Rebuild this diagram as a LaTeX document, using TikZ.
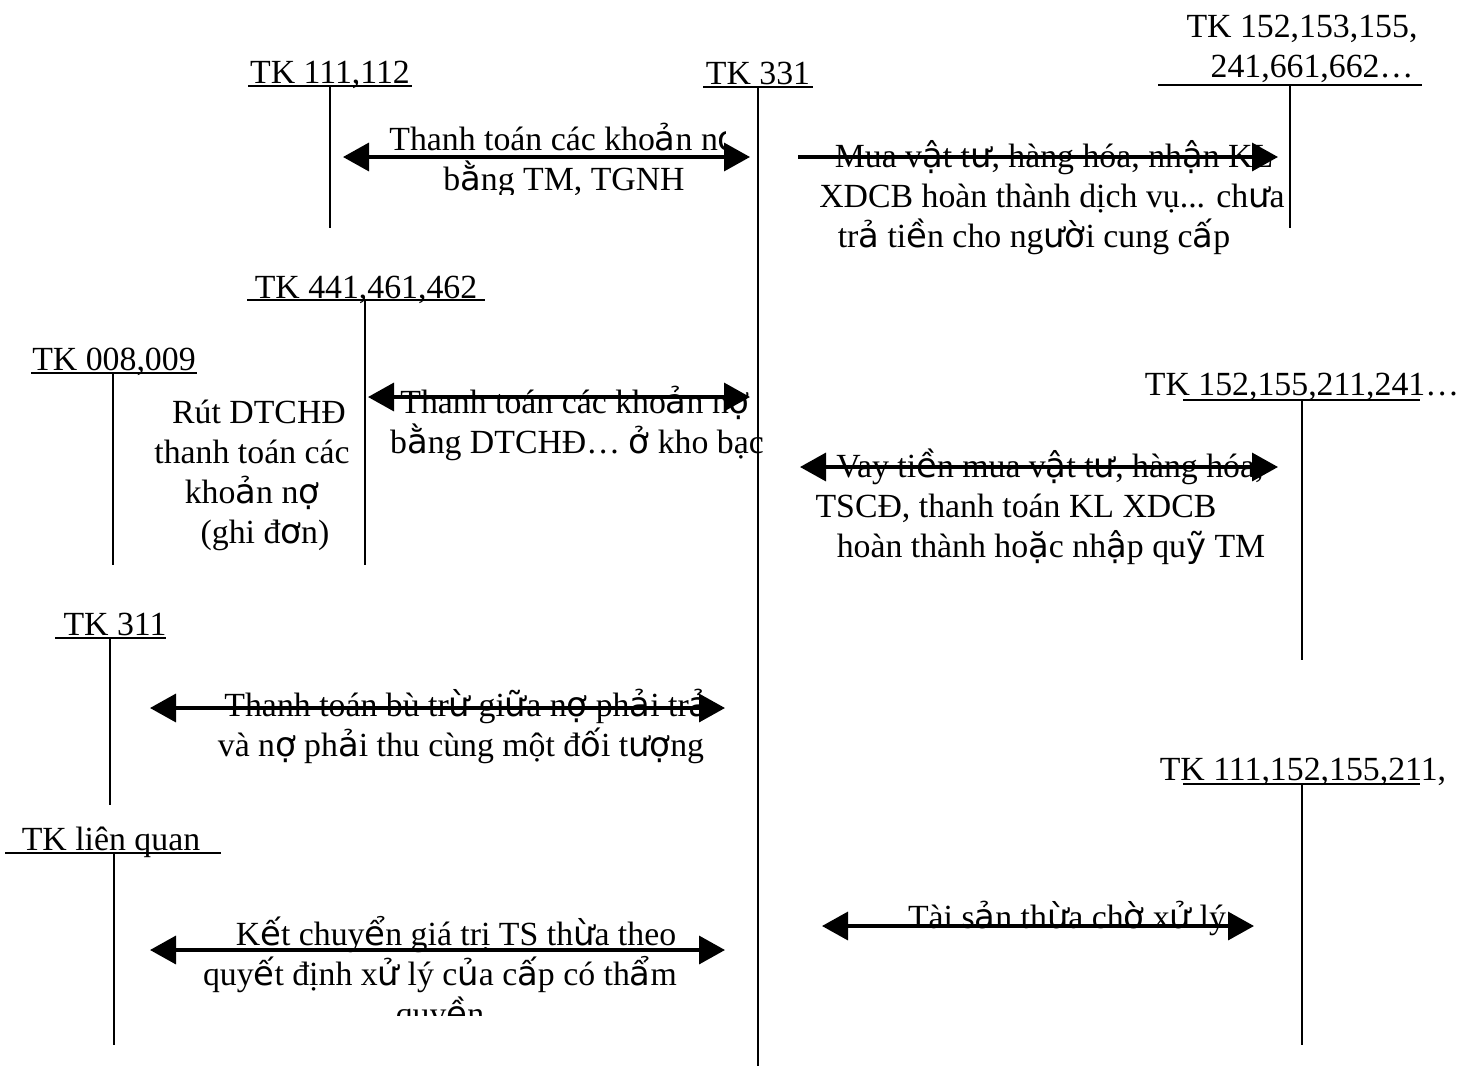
\documentclass[tikz,border=0pt]{standalone}
\usepackage{fontspec}
\setmainfont{Liberation Serif}
\newfontfamily\fbfont{DejaVu Sans}
% letters set in the sans face
\newcommand\vf[1]{{\fbfont #1}}
\usetikzlibrary{arrows.meta}
\begin{document}
\begin{tikzpicture}[x=1pt,y=-1pt,
  lbl/.style={inner sep=0pt, anchor=base, font=\fontsize{33.8}{40}\selectfont},
  tline/.style={line width=2pt},
  head/.tip={Triangle[length=26pt,width=28pt]},
  flow/.style={line width=3.5pt, head-head},
  flowr/.style={line width=3.5pt, -head}
]
\useasboundingbox[fill=white] (0,0) rectangle (1475,1066);

% ---------- account headings ----------
\node[lbl] (t111) at (330,83) {TK 111,112};
\node[lbl] (t331) at (758,84) {TK 331};
\node[lbl] (t152a) at (1302,37) {TK 152,153,155,};
\node[lbl] (t152b) at (1312,77) {241,661,662…};
\node[lbl] (t441) at (366,298) {TK 441,461,462};
\node[lbl] (t008) at (114,370) {TK 008,009};
\node[lbl] (t152c) at (1302,395) {TK 152,155,211,241…};
\node[lbl] (t311) at (115,635) {TK 311};
\node[lbl] (t111b) at (1303,780) {TK 111,152,155,211,};
\node[lbl] (tlq) at (111,850) {TK liên quan};

% ---------- T-account lines ----------
\coordinate (a1l) at (248,86);  \coordinate (a1r) at (412,86);
\coordinate (a1t) at (330,86);  \coordinate (a1b) at (330,228);
\coordinate (a2l) at (703,87);  \coordinate (a2r) at (813,87);
\coordinate (a2t) at (758,87);  \coordinate (a2b) at (758,1066);
\coordinate (a3l) at (1158,85); \coordinate (a3r) at (1422,85);
\coordinate (a3t) at (1290,85); \coordinate (a3b) at (1290,228);
\coordinate (a4l) at (247,300); \coordinate (a4r) at (485,300);
\coordinate (a4t) at (365,300); \coordinate (a4b) at (365,565);
\coordinate (a5l) at (31,373);  \coordinate (a5r) at (197,373);
\coordinate (a5t) at (113,373); \coordinate (a5b) at (113,565);
\coordinate (a6l) at (1183,400); \coordinate (a6r) at (1420,400);
\coordinate (a6t) at (1302,400); \coordinate (a6b) at (1302,660);
\coordinate (a7l) at (55,638);  \coordinate (a7r) at (166,638);
\coordinate (a7t) at (110,638); \coordinate (a7b) at (110,805);
\coordinate (a8l) at (1183,784); \coordinate (a8r) at (1420,784);
\coordinate (a8t) at (1302,784); \coordinate (a8b) at (1302,1045);
\coordinate (a9l) at (5,853);   \coordinate (a9r) at (221,853);
\coordinate (a9t) at (114,853); \coordinate (a9b) at (114,1045);

\foreach \k in {1,...,9}{
  \draw[tline] (a\k l) -- (a\k r);
  \draw[tline] (a\k t) -- (a\k b);
}

% ---------- descriptions ----------
\begin{scope}
  \clip (300,100) rectangle (725,194);
  \node[lbl] (d1a) at (564,150) {Thanh toán các kho\vf{ả}n n\vf{ợ}};
  \node[lbl] (d1b) at (564,190) {b\vf{ằ}ng TM, TGNH};
\end{scope}

\node[lbl] (d2a) at (1054,167) {Mua v\vf{ậ}t t\vf{ư}, hàng hóa, nh\vf{ậ}n KL};
\node[lbl] (d2b) at (1052,207) {XDCB hoàn thành dịch vụ... ch\vf{ư}a};
\node[lbl] (d2c) at (1034,247) {tr\vf{ả} ti\vf{ề}n cho ng\vf{ườ}i cung c\vf{ấ}p};

\node[lbl] (r1) at (259,423) {Rút DTCHĐ};
\node[lbl] (r2) at (252,463) {thanh toán các};
\node[lbl] (r3) at (252,503) {kho\vf{ả}n n\vf{ợ}};
\node[lbl] (r4) at (265,543) {(ghi đ\vf{ơ}n)};

\begin{scope}
  \clip (370,370) rectangle (768,470);
  \node[lbl] (d3a) at (575,413) {Thanh toán các kho\vf{ả}n n\vf{ợ}};
  \node[lbl] (d3b) at (577,453) {b\vf{ằ}ng DTCHĐ… \vf{ở} kho bạc};
\end{scope}

\node[lbl] (d4a) at (1050,477) {Vay ti\vf{ề}n mua v\vf{ậ}t t\vf{ư}, hàng hóa,};
\node[lbl] (d4b) at (1016,517) {TSCĐ, thanh toán KL XDCB};
\node[lbl] (d4c) at (1051,557) {hoàn thành ho\vf{ặ}c nh\vf{ậ}p qu\vf{ỹ} TM};

\node[lbl] (d5a) at (467,716) {Thanh toán bù tr\vf{ừ} gi\vf{ữ}a n\vf{ợ} ph\vf{ả}i tr\vf{ả}};
\node[lbl] (d5b) at (461,756) {và n\vf{ợ} ph\vf{ả}i thu cùng một đ\vf{ố}i t\vf{ượ}ng};

\node[lbl] (d6) at (1067,928) {Tài s\vf{ả}n th\vf{ừ}a ch\vf{ờ} x\vf{ử} lý};

\begin{scope}
  \clip (180,900) rectangle (740,1015);
  \node[lbl] (d7a) at (456,945) {K\vf{ế}t chuy\vf{ể}n giá trị TS th\vf{ừ}a theo};
  \node[lbl] (d7b) at (440,985) {quy\vf{ế}t định x\vf{ử} lý c\vf{ủ}a c\vf{ấ}p có th\vf{ẩ}m};
  \node[lbl] (d7c) at (440,1025) {quy\vf{ề}n};
\end{scope}

% ---------- flows ----------
\coordinate (f1l) at (343,157);  \coordinate (f1r) at (750,157);
\coordinate (f2l) at (798,157);  \coordinate (f2r) at (1278,157);
\coordinate (f3l) at (368,397);  \coordinate (f3r) at (750,397);
\coordinate (f4l) at (800,467);  \coordinate (f4r) at (1278,467);
\coordinate (f5l) at (150,708);  \coordinate (f5r) at (725,708);
\coordinate (f6l) at (822,926);  \coordinate (f6r) at (1254,926);
\coordinate (f7l) at (150,950);  \coordinate (f7r) at (725,950);

\draw[flow] (f1l) -- (f1r);
\draw[flowr] (f2l) -- (f2r);
\draw[flow] (f3l) -- (f3r);
\draw[flow] (f4l) -- (f4r);
\draw[flow] (f5l) -- (f5r);
\draw[flow] (f6l) -- (f6r);
\draw[flow] (f7l) -- (f7r);
\end{tikzpicture}
\end{document}
